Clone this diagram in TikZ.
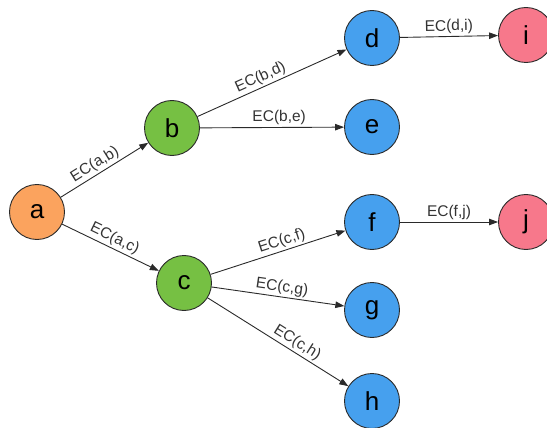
\documentclass[tikz,border=0pt]{standalone}
\usepackage{fontspec}
\setmainfont{Liberation Sans}
\usetikzlibrary{arrows.meta}
\definecolor{corange}{HTML}{FBA35E}
\definecolor{cgreen}{HTML}{76C043}
\definecolor{cblue}{HTML}{46A0EE}
\definecolor{cpink}{HTML}{F7788B}
\definecolor{cline}{HTML}{2A2A2A}
\begin{document}
\begin{tikzpicture}[x=1pt,y=-1pt,
  vtx/.style={circle,draw=cline,line width=0.9pt,minimum size=55pt,inner sep=0pt,font=\fontsize{26}{26}\selectfont,text=black},
  edge/.style={draw=cline,line width=0.9pt,-{Triangle[length=9pt,width=6.5pt]}},
  lab/.style={sloped,above,font=\fontsize{15.5}{15.5}\selectfont,text=black!80,inner sep=2pt}]
\useasboundingbox (0,0) rectangle (547,428);
\node[vtx,fill=corange] (a) at (37,212) {a};
\node[vtx,fill=cgreen] (b) at (172,128) {b};
\node[vtx,fill=cgreen] (c) at (184,283) {c};
\node[vtx,fill=cblue] (d) at (372,38) {d};
\node[vtx,fill=cblue] (e) at (372,127) {e};
\node[vtx,fill=cblue] (f) at (372,222) {f};
\node[vtx,fill=cblue] (g) at (372,310) {g};
\node[vtx,fill=cblue] (h) at (372,401) {h};
\node[vtx,fill=cpink] (i) at (526,35) {i};
\node[vtx,fill=cpink] (j) at (526,222) {j};
\draw[edge] (a) -- node[lab,pos=0.45] {EC(a,b)} (b);
\draw[edge] (a) -- node[lab,pos=0.5] {EC(a,c)} (c);
\draw[edge] (b) -- node[lab,pos=0.45] {EC(b,d)} (d);
\draw[edge] (b) -- node[lab,pos=0.55] {EC(b,e)} (e);
\draw[edge] (d) -- node[lab,pos=0.5] {EC(d,i)} (i);
\draw[edge] (c) -- node[lab,pos=0.55] {EC(c,f)} (f);
\draw[edge] (c) -- node[lab,pos=0.52] {EC(c,g)} (g);
\draw[edge] (c) -- node[lab,pos=0.6] {EC(c,h)} (h);
\draw[edge] (f) -- node[lab,pos=0.5] {EC(f,j)} (j);
\end{tikzpicture}
\end{document}
